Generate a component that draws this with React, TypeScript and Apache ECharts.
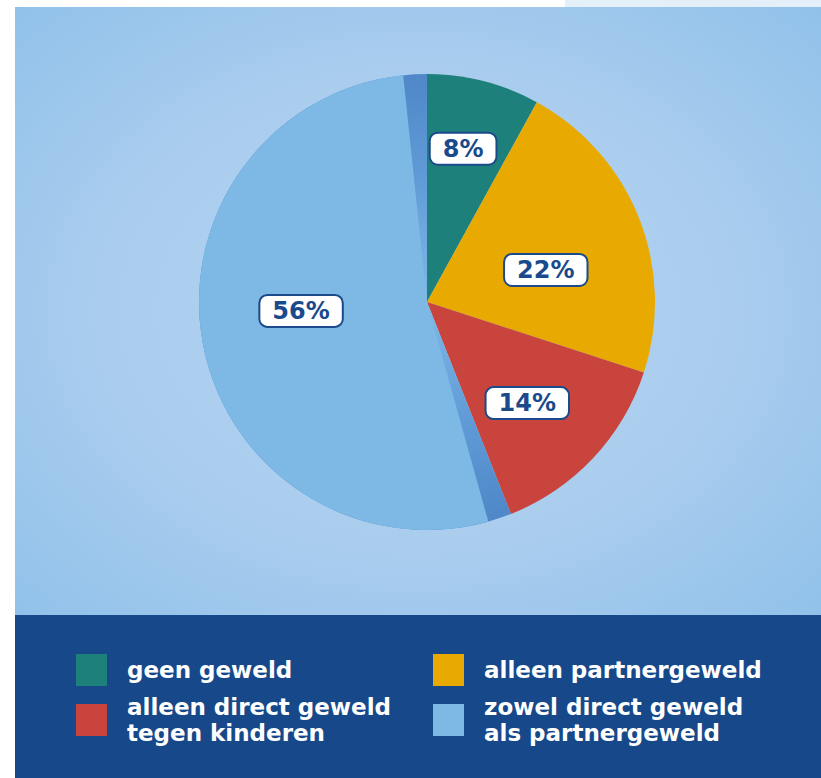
import React, { useEffect, useRef } from 'react';
import * as echarts from 'echarts';

const categories = [
  'geen geweld',
  'alleen partnergeweld',
  'alleen direct geweld\ntegen kinderen',
  'zowel direct geweld\nals partnergeweld',
];
const values = [8, 22, 14, 56];
const sliceColors = ['#1e807b', '#e8a900', '#c8443d', '#7eb9e6'];

const CX = 427;
const CY = 302;
const R = 228;
const labelOffsets: number[][] = [[7, -40], [10, 11], [15, 21], [-11, -13]];

export default function App() {
  const ref = useRef<HTMLDivElement>(null);
  useEffect(() => {
    if (!ref.current) return;
    const chart = echarts.init(ref.current, null, { renderer: 'svg' });
    const shade = {
      type: 'radial', x: CX, y: CY, r: R, global: true,
      colorStops: [
        { offset: 0, color: '#7eb9e6' },
        { offset: 0.2, color: '#74aee2' },
        { offset: 0.5, color: '#629dd8' },
        { offset: 1, color: '#4f87c8' },
      ],
    };
    const baseData = categories.map((name, i) => ({
      name,
      value: values[i],
      itemStyle: { color: i === 3 ? shade : sliceColors[i] },
    }));
    const topData = categories.map((name, i) => ({
      name,
      value: values[i],
      itemStyle: { color: i === 3 ? sliceColors[3] : 'rgba(0,0,0,0)' },
      label: { offset: labelOffsets[i] },
    }));
    const font = 'DejaVu Sans';
    chart.setOption({
      animation: false,
      graphic: [
        { type: 'rect', z: 0, shape: { x: 565, y: 0, width: 256, height: 7 }, style: { fill: '#e3eff9' } },
        {
          type: 'rect', z: 0, shape: { x: 15, y: 7, width: 806, height: 608 },
          style: {
            fill: {
              type: 'radial', x: 0.5, y: 0.5, r: 0.85,
              colorStops: [
                { offset: 0, color: '#b5d4f1' },
                { offset: 0.45, color: '#aacdee' },
                { offset: 1, color: '#86bce8' },
              ],
            },
          },
        },
        { type: 'rect', z: 0, shape: { x: 15, y: 615, width: 806, height: 163 }, style: { fill: '#17498a' } },
      ],
      legend: {
        selectedMode: false,
        left: 76,
        top: 654,
        width: 720,
        padding: 0,
        itemGap: 18,
        itemWidth: 31,
        itemHeight: 32,
        icon: 'rect',
        textStyle: {
          color: '#ffffff',
          fontFamily: font,
          fontWeight: 'bold',
          fontSize: 23,
          lineHeight: 26,
          width: 288,
          padding: [0, 0, 0, 15],
        },
        data: categories.map((name, i) => ({
          name,
          itemStyle: { color: sliceColors[i] },
        })),
      },
      series: [
        {
          type: 'pie',
          z: 2,
          silent: true,
          center: [CX, CY],
          radius: R,
          startAngle: 90,
          clockwise: true,
          label: { show: false },
          labelLine: { show: false },
          data: baseData,
        },
        {
          type: 'pie',
          z: 3,
          silent: true,
          center: [CX, CY],
          radius: R,
          startAngle: 90,
          clockwise: true,
          padAngle: 12,
          labelLine: { show: false },
          label: {
            show: true,
            position: 'inside',
            formatter: (p: any) => `${p.value}%`,
            color: '#1a4a8c',
            fontFamily: font,
            fontWeight: 'bold',
            fontSize: 24,
            backgroundColor: '#ffffff',
            borderColor: '#1a4a8c',
            borderWidth: 2,
            borderRadius: 7,
            padding: [3, 12, 3, 12],
          },
          data: topData,
        },
      ],
    });
    return () => chart.dispose();
  }, []);
  return (
    <div
      ref={ref}
      style={{ position: 'fixed', left: 0, top: 0, width: 821, height: 778, background: '#ffffff' }}
    />
  );
}
